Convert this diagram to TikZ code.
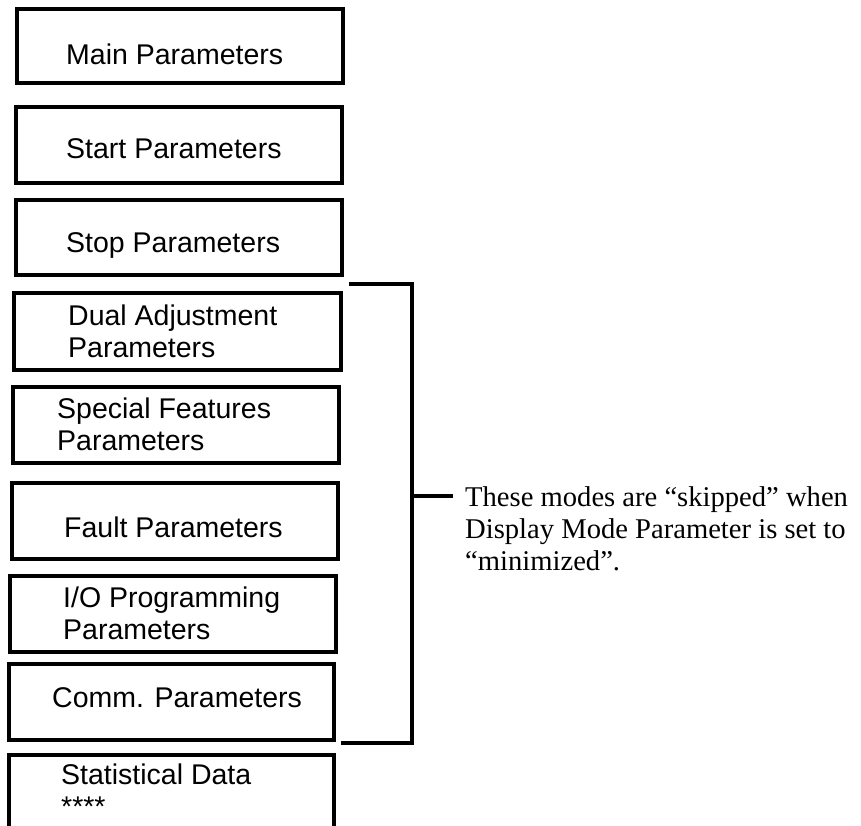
\documentclass[tikz,border=0pt]{standalone}
\usepackage{fontspec}
\setmainfont{Liberation Serif}
\newfontfamily\arialf{Liberation Sans}
\begin{document}
\begin{tikzpicture}[x=1pt,y=-1pt,
  box/.style={draw, line width=3.3pt, inner sep=0pt, rectangle},
  lbl/.style={font=\arialf\fontsize{28.5}{32}\selectfont, anchor=base west, inner sep=0pt},
  note/.style={font=\fontsize{28.6}{32}\selectfont, anchor=base west, inner sep=0pt},
  brk/.style={line width=3.2pt}]
\useasboundingbox (0,0) rectangle (861,826);
\clip (0,0) rectangle (861,826);
% boxes
\node[box, minimum width=326, minimum height=74] (main) at (180,46) {};
\node[box, minimum width=326, minimum height=76] (start) at (179,145) {};
\node[box, minimum width=326, minimum height=75] (stop) at (179,237.5) {};
\node[box, minimum width=327, minimum height=77] (dual) at (177.5,331.5) {};
\node[box, minimum width=326, minimum height=76] (special) at (176,425) {};
\node[box, minimum width=326, minimum height=76] (fault) at (175,521) {};
\node[box, minimum width=326, minimum height=76] (io) at (173,614) {};
\node[box, minimum width=325, minimum height=76] (comm) at (171.5,702) {};
\node[box, minimum width=325, minimum height=105] (stat) at (171.5,807.5) {};
% labels
\node[lbl] (mainT) at (66,65) {Main Parameters};
\node[lbl] (startT) at (66,159) {Start Parameters};
\node[lbl] (stopT) at (66,252) {Stop Parameters};
\node[lbl] (dualT) at (68,325) {\begin{tabular}[t]{@{}l@{}}Dual Adjustment\\Parameters\end{tabular}};
\node[lbl] (specialT) at (57,418) {\begin{tabular}[t]{@{}l@{}}Special Features\\Parameters\end{tabular}};
\node[lbl] (faultT) at (64,537) {Fault Parameters};
\node[lbl] (ioT) at (63,607) {\begin{tabular}[t]{@{}l@{}}I/O Programming\\Parameters\end{tabular}};
\node[lbl] (commT) at (52,707) {Comm. Parameters};
\node[lbl] (statT) at (61,784) {\begin{tabular}[t]{@{}l@{}}Statistical Data\\\relax ****\end{tabular}};
% bracket
\coordinate (b1) at (349,284);
\coordinate (b2) at (412,284);
\coordinate (b3) at (412,743);
\coordinate (b4) at (341,743);
\coordinate (bm) at (412,496);
\coordinate (bt) at (453,496);
\draw[brk] (b1) -- (b2) -- (b3) -- (b4);
\draw[brk] (bm) -- (bt);
\node[note] (noteT) at (465,506) {\begin{tabular}[t]{@{}l@{}}These modes are “skipped” when\\Display Mode Parameter is set to\\“minimized”.\end{tabular}};
\end{tikzpicture}
\end{document}
